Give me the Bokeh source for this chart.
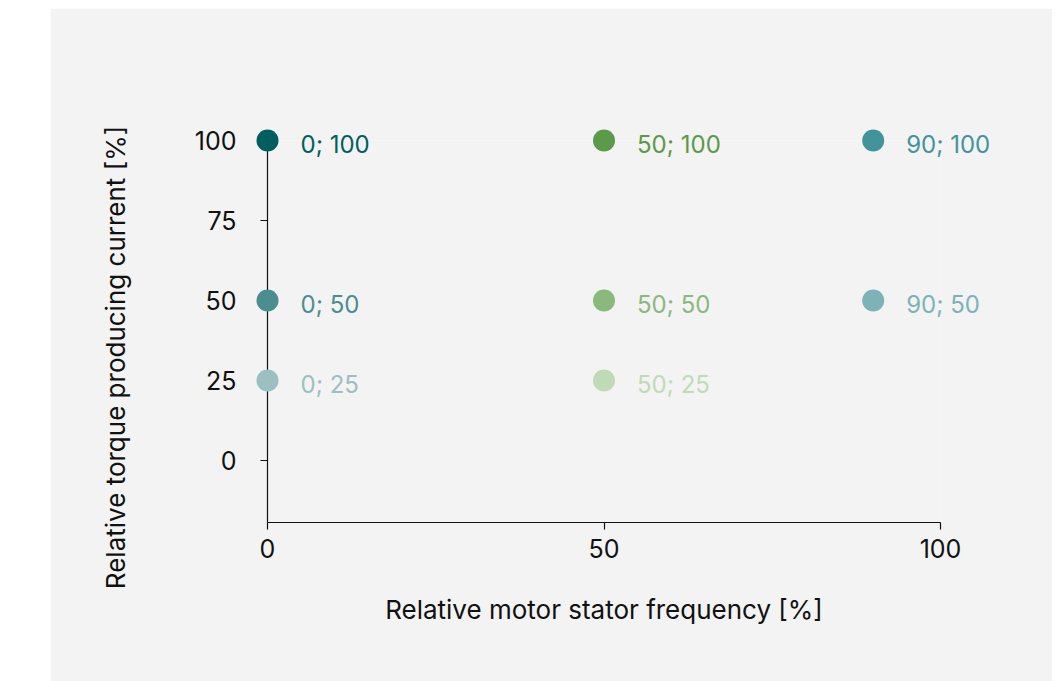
import math
from bokeh.plotting import figure
from bokeh.models import ColumnDataSource, Range1d, FixedTicker, Spacer
from bokeh.layouts import row, column
from bokeh.core.properties import value
from bokeh.embed import file_html
from bokeh.resources import INLINE

# ---- data ----
frequency = [0, 0, 0, 50, 50, 50, 90, 90]
current = [100, 50, 25, 100, 50, 25, 100, 50]
point_labels = ["0; 100", "0; 50", "0; 25", "50; 100", "50; 50", "50; 25", "90; 100", "90; 50"]
point_colors = ["#005f5e", "#4b8e8f", "#9bc0c1", "#5a9a48", "#8ab97c", "#bfdbb6", "#43939a", "#7cb3b7"]
x_ticks = [0, 50, 100]
y_ticks = [0, 25, 50, 75, 100]
x_title = "Relative motor stator frequency [%]"
y_title = "Relative torque producing current [%]"

BG = "#f3f3f3"
FONT = "Inter"

X_RANGE = (0, 100)
Y_RANGE = (-19.4, 100)
FRAME_W = 673   # px
FRAME_H = 382   # px

src = ColumnDataSource(dict(x=frequency, y=current, label=point_labels, color=point_colors))

p = figure(
    width=1002, height=673,
    x_range=Range1d(*X_RANGE), y_range=Range1d(*Y_RANGE),
    output_backend="svg", toolbar_location=None,
    min_border_left=217, min_border_right=112, min_border_top=132, min_border_bottom=159,
    background_fill_color=BG, border_fill_color=BG, outline_line_color=None,
)
p.grid.visible = False

for ax in (p.xaxis[0], p.yaxis[0]):
    ax.axis_line_color = "#111111"
    ax.axis_line_width = 1.2
    ax.major_tick_line_color = "#111111"
    ax.major_tick_line_width = 1.2
    ax.major_tick_in = 0
    ax.major_tick_out = 7
    ax.minor_tick_line_color = None
    ax.major_label_text_font = FONT
    ax.major_label_text_font_size = "25px"
    ax.major_label_text_color = "#111111"
    ax.axis_label_text_font = FONT
    ax.axis_label_text_font_size = "26px"
    ax.axis_label_text_font_style = "normal"
    ax.axis_label_text_color = "#111111"

p.xaxis.ticker = FixedTicker(ticks=x_ticks)
p.yaxis.ticker = FixedTicker(ticks=y_ticks)
p.xaxis.axis_label = x_title
p.xaxis.major_label_standoff = 9
p.xaxis.axis_label_standoff = 33
p.yaxis.major_label_standoff = 24

# y-axis title: anchored 152 px left of the frame and 165 px above its bottom
px_x = (X_RANGE[1] - X_RANGE[0]) / FRAME_W
px_y = (Y_RANGE[1] - Y_RANGE[0]) / FRAME_H
p.text(x=[X_RANGE[0] - 152 * px_x], y=[Y_RANGE[0] + 165 * px_y], text=[y_title],
       angle=math.pi / 2, text_align="center", text_baseline="middle",
       text_font=value(FONT), text_font_size="26px", text_color="#111111",
       level="overlay")

p.scatter("x", "y", source=src, size=22, fill_color="color", line_color=None, level="overlay")
p.text("x", "y", text="label", source=src, text_color="color", text_font=value(FONT),
       text_font_size="24px", text_baseline="middle", text_align="left",
       x_offset=33, y_offset=4, level="overlay")

layout = column(Spacer(width=1052, height=8), row(Spacer(width=50, height=673), p))

open("out.html", "w").write(file_html(layout, INLINE))
